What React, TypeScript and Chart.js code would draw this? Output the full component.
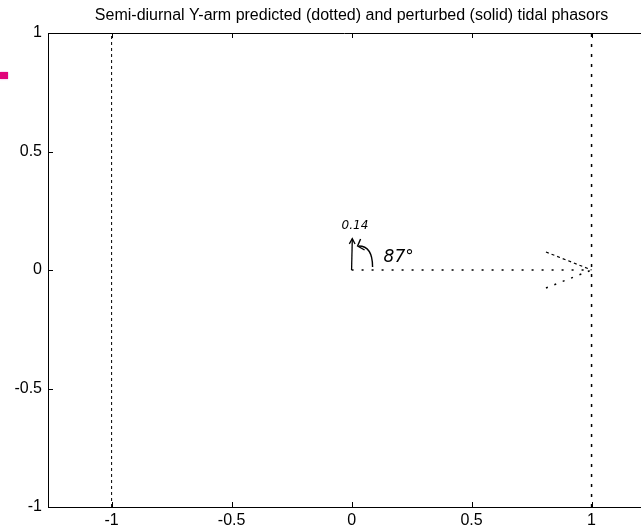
import React, { useEffect, useRef } from "react";
import { Chart, registerables } from "chart.js";

Chart.register(...registerables);

const TITLE = "Semi-diurnal Y-arm predicted (dotted) and perturbed (solid) tidal phasors";
const X_TICKS = [-1, -0.5, 0, 0.5, 1];
const Y_TICKS = [-1, -0.5, 0, 0.5, 1];
const X_MIN = -1.265;
const X_MAX = 1.206;
const Y_MIN = -1;
const Y_MAX = 1;

// predicted phasor (dotted) : shaft and arrow head
const PRED_SHAFT_X = [0, 1];
const PRED_SHAFT_Y = [0, 0];
const PRED_HEAD_UP_X = [0.81, 1];
const PRED_HEAD_UP_Y = [0.076, 0];
const PRED_HEAD_LO_X = [0.81, 1];
const PRED_HEAD_LO_Y = [-0.076, 0];
// reference vertical lines
const VLINE_LEFT_X = [-1, -1];
const VLINE_LEFT_Y = [-1, 1];
const VLINE_RIGHT_X = [1, 1];
const VLINE_RIGHT_Y = [-1, 1];
// perturbed phasor (solid)
const PERT_X = [0, 0.003];
const PERT_Y = [0, 0.132];
const PERT_AMP_LABEL = "0.14";
const PERT_PHASE_LABEL = "87°";

const pts = (xs: number[], ys: number[]) => xs.map((x, i) => ({ x, y: ys[i] }));

const FONT = "'Liberation Sans', Arial, Helvetica, sans-serif";
const HAND = "'DejaVu Sans', sans-serif";

export default function App() {
  const ref = useRef<HTMLCanvasElement | null>(null);
  useEffect(() => {
    if (!ref.current) return;
    const matlabPlugin = {
      id: "matlabDeco",
      afterDraw(chart: any) {
        const ctx = chart.ctx;
        const xs = chart.scales.x;
        const ys = chart.scales.y;
        const area = chart.chartArea;
        ctx.save();
        // title
        ctx.fillStyle = "#000";
        ctx.font = `16px ${FONT}`;
        ctx.textAlign = "center";
        ctx.textBaseline = "alphabetic";
        ctx.fillText(TITLE, xs.getPixelForValue(0), 20);
        // box: top border
        ctx.strokeStyle = "#000";
        ctx.lineWidth = 1;
        ctx.setLineDash([]);
        ctx.beginPath();
        ctx.moveTo(area.left, Math.round(area.top) + 0.5);
        ctx.lineTo(area.right, Math.round(area.top) + 0.5);
        ctx.stroke();
        // inward ticks
        const tl = 5;
        ctx.beginPath();
        X_TICKS.forEach((v) => {
          const px = Math.round(xs.getPixelForValue(v)) + 0.5;
          ctx.moveTo(px, area.bottom);
          ctx.lineTo(px, area.bottom - tl);
          ctx.moveTo(px, area.top);
          ctx.lineTo(px, area.top + tl);
        });
        Y_TICKS.forEach((v) => {
          const py = Math.round(ys.getPixelForValue(v)) + 0.5;
          ctx.moveTo(area.left, py);
          ctx.lineTo(area.left + tl, py);
        });
        ctx.stroke();
        // arrow head on perturbed phasor
        const n = PERT_X.length - 1;
        const tx = xs.getPixelForValue(PERT_X[n]);
        const ty = ys.getPixelForValue(PERT_Y[n]);
        const bx = xs.getPixelForValue(PERT_X[n - 1]);
        const by = ys.getPixelForValue(PERT_Y[n - 1]);
        const ang = Math.atan2(ty - by, tx - bx);
        ctx.lineWidth = 1.3;
        ctx.beginPath();
        ctx.moveTo(tx + 6 * Math.cos(ang + Math.PI - 0.5), ty + 6 * Math.sin(ang + Math.PI - 0.5));
        ctx.lineTo(tx, ty);
        ctx.lineTo(tx + 6 * Math.cos(ang + Math.PI + 0.5), ty + 6 * Math.sin(ang + Math.PI + 0.5));
        ctx.stroke();
        // hand-written annotation
        const ox = xs.getPixelForValue(0);
        const oy = ys.getPixelForValue(0);
        ctx.font = `italic 12px ${HAND}`;
        ctx.textAlign = "left";
        ctx.fillText(PERT_AMP_LABEL, ox - 10, oy - 41);
        ctx.font = `italic 17px ${HAND}`;
        ctx.fillText(PERT_PHASE_LABEL, ox + 32, oy - 8);
        // curved angle arrow
        ctx.lineWidth = 1.4;
        ctx.beginPath();
        ctx.moveTo(ox + 21, oy - 3);
        ctx.quadraticCurveTo(ox + 21, oy - 24, ox + 7, oy - 24);
        ctx.stroke();
        ctx.beginPath();
        ctx.moveTo(ox + 9, oy - 31);
        ctx.lineTo(ox + 6, oy - 24);
        ctx.lineTo(ox + 13, oy - 20);
        ctx.stroke();
        ctx.restore();
      },
    };

    const chart = new Chart(ref.current, {
      type: "scatter",
      data: {
        datasets: [
          { label: "predicted", data: pts(PRED_SHAFT_X, PRED_SHAFT_Y), borderDash: [2, 8], borderWidth: 1.5 },
          { label: "head up", data: pts(PRED_HEAD_UP_X, PRED_HEAD_UP_Y), borderDash: [3, 3], borderWidth: 1.2 },
          { label: "head lo", data: pts(PRED_HEAD_LO_X, PRED_HEAD_LO_Y), borderDash: [2, 7], borderWidth: 1.5 },
          { label: "x=-1", data: pts(VLINE_LEFT_X, VLINE_LEFT_Y), borderDash: [3, 3], borderWidth: 1 },
          { label: "x=1", data: pts(VLINE_RIGHT_X, VLINE_RIGHT_Y), borderDash: [3, 7], borderWidth: 1.5 },
          { label: "perturbed", data: pts(PERT_X, PERT_Y), borderWidth: 1.3 },
        ].map((d) => ({
          ...d,
          showLine: true,
          borderColor: "#000",
          backgroundColor: "#000",
          pointRadius: 0,
          pointHoverRadius: 0,
          fill: false,
        })) as any,
      },
      options: {
        animation: false,
        responsive: false,
        maintainAspectRatio: false,
        layout: { padding: { top: 33, right: 0, left: 0, bottom: 0 } },
        plugins: { legend: { display: false }, tooltip: { enabled: false }, title: { display: false } },
        scales: {
          x: {
            type: "linear",
            min: X_MIN,
            max: X_MAX,
            grid: { display: false, drawTicks: false },
            border: { display: true, color: "#000", width: 1 },
            afterBuildTicks: (s: any) => {
              s.ticks = X_TICKS.map((v) => ({ value: v }));
            },
            afterFit: (s: any) => {
              s.height = 22;
            },
            ticks: {
              color: "#000",
              font: { family: FONT, size: 16 },
              padding: 4,
              maxRotation: 0,
              autoSkip: false,
              callback: (v: any) => String(v),
            },
          },
          y: {
            type: "linear",
            min: Y_MIN,
            max: Y_MAX,
            grid: { display: false, drawTicks: false },
            border: { display: true, color: "#000", width: 1 },
            afterBuildTicks: (s: any) => {
              s.ticks = Y_TICKS.map((v) => ({ value: v }));
            },
            afterFit: (s: any) => {
              s.width = 48;
            },
            ticks: {
              color: "#000",
              font: { family: FONT, size: 16 },
              padding: 6,
              autoSkip: false,
              callback: (v: any) => String(v),
            },
          },
        },
      },
      plugins: [matlabPlugin],
    });
    return () => chart.destroy();
  }, []);

  return (
    <div style={{ position: "absolute", left: 0, top: 0, width: 641, height: 529, background: "#fff", overflow: "hidden" }}>
      <canvas ref={ref} width={641} height={529} style={{ display: "block" }} />
      <div style={{ position: "absolute", left: 0, top: 72, width: 8, height: 7, background: "#e0007a", boxShadow: "0 0 2px #e080d0" }} />
    </div>
  );
}
